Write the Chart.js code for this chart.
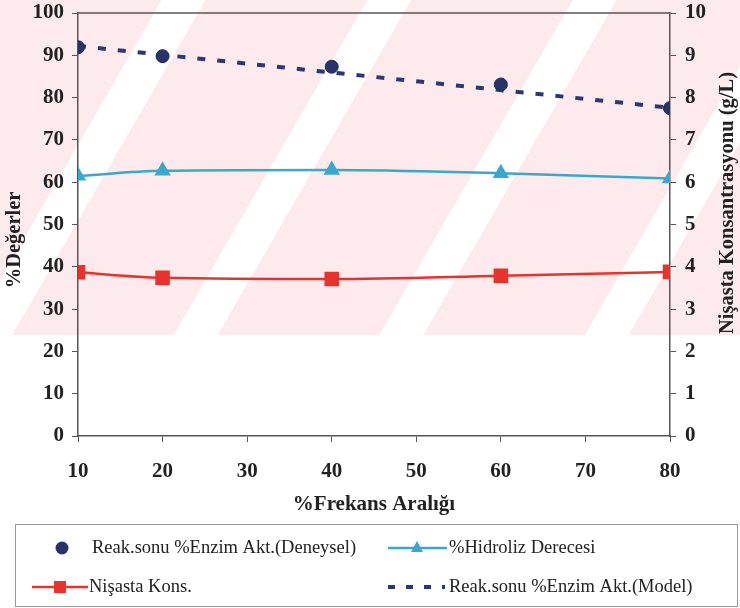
<!DOCTYPE html>
<html lang="tr">
<head>
    <meta charset="UTF-8">
    <title>Frekans Aralığı</title>
    <script src="https://cdn.jsdelivr.net/npm/chart.js"></script>
    <style>
        body {
            margin: 0;
            background: #fff;
        }
        .wrap {
            position: relative;
            width: 740px;
            height: 608px;
        }
        /* faint pink watermark stripes behind the chart */
        .watermark {
            position: absolute;
            left: 0;
            top: 0;
            width: 740px;
            height: 335px;
            background: repeating-linear-gradient(120deg, #fdeaec 0px, #fdeaec 140px, #ffffff 140px, #ffffff 178px);
        }
        canvas {
            position: absolute;
            left: 0;
            top: 0;
        }
    </style>
</head>
<body>
<div class="wrap">
    <div class="watermark"></div>
    <canvas id="chart" width="740" height="608"></canvas>
</div>

<script>
    const frekans = [10, 20, 40, 60, 80];
    const enzimDeneysel = [91.9, 89.8, 87.3, 83.1, 77.5];
    const hidrolizDerecesi = [61.5, 62.7, 62.9, 62.1, 60.9];
    const nisastaKons = [3.87, 3.74, 3.71, 3.79, 3.88];
    const modelFrekans = [10, 80];
    const enzimModel = [92.2, 77.6];

    const xTicks = [10, 20, 30, 40, 50, 60, 70, 80];
    const leftTicks = [0, 10, 20, 30, 40, 50, 60, 70, 80, 90, 100];
    const rightTicks = [0, 1, 2, 3, 4, 5, 6, 7, 8, 9, 10];

    const SERIF = "'Liberation Serif', 'Times New Roman', serif";
    const AXIS_COLOR = '#555';

    function pts(xs, ys) {
        return xs.map((x, i) => ({x: x, y: ys[i]}));
    }

    // axis titles + frame + boxed legend, drawn by hand
    const extras = {
        id: 'extras',
        afterDraw(chart) {
            const ctx = chart.ctx;
            const a = chart.chartArea;
            const ds = chart.data.datasets;
            ctx.save();

            ctx.strokeStyle = AXIS_COLOR;
            ctx.lineWidth = 1.5;
            ctx.beginPath();
            ctx.moveTo(a.left, a.top);
            ctx.lineTo(a.right, a.top);
            ctx.stroke();

            ctx.fillStyle = '#222';
            ctx.font = 'bold 21px ' + SERIF;
            ctx.textAlign = 'center';
            ctx.textBaseline = 'middle';
            ctx.fillText('%Frekans Aralığı', (a.left + a.right) / 2, 505);

            ctx.font = 'bold 20.5px ' + SERIF;
            ctx.save();
            ctx.translate(15, 240);
            ctx.rotate(-Math.PI / 2);
            ctx.fillText('%Değerler', 0, 0);
            ctx.restore();

            ctx.save();
            ctx.translate(728, 203);
            ctx.rotate(-Math.PI / 2);
            ctx.fillText('Nişasta Konsantrasyonu (g/L)', 0, 0);
            ctx.restore();

            // legend box
            ctx.strokeStyle = '#999';
            ctx.lineWidth = 1;
            ctx.strokeRect(15.5, 524.5, 722, 82);

            const row1 = 548, row2 = 587;
            ctx.font = '18.5px ' + SERIF;
            ctx.textAlign = 'left';
            ctx.fillStyle = '#222';

            // Deneysel
            ctx.fillStyle = ds[0].backgroundColor;
            ctx.beginPath();
            ctx.arc(62, row1, 6.5, 0, Math.PI * 2);
            ctx.fill();
            ctx.fillStyle = '#222';
            ctx.fillText(ds[0].label, 92, row1);

            // Nişasta
            ctx.strokeStyle = ds[2].borderColor;
            ctx.lineWidth = 2.5;
            ctx.beginPath();
            ctx.moveTo(32, row2);
            ctx.lineTo(88, row2);
            ctx.stroke();
            ctx.fillStyle = ds[2].backgroundColor;
            ctx.fillRect(54, row2 - 6, 12, 12);
            ctx.fillStyle = '#222';
            ctx.fillText(ds[2].label, 89, row2);

            // Hidroliz
            ctx.strokeStyle = ds[1].borderColor;
            ctx.beginPath();
            ctx.moveTo(388, row1);
            ctx.lineTo(447, row1);
            ctx.stroke();
            ctx.fillStyle = ds[1].backgroundColor;
            ctx.beginPath();
            ctx.moveTo(417, row1 - 7);
            ctx.lineTo(423, row1 + 4);
            ctx.lineTo(411, row1 + 4);
            ctx.closePath();
            ctx.fill();
            ctx.fillStyle = '#222';
            ctx.fillText(ds[1].label, 449, row1);

            // Model
            ctx.strokeStyle = ds[3].borderColor;
            ctx.lineWidth = 4;
            ctx.setLineDash([7, 11]);
            ctx.beginPath();
            ctx.moveTo(388, row2);
            ctx.lineTo(445, row2);
            ctx.stroke();
            ctx.setLineDash([]);
            ctx.fillStyle = '#222';
            ctx.fillText(ds[3].label, 449, row2);

            ctx.restore();
        }
    };

    const tickFont = {family: SERIF, size: 21, weight: 'bold'};

    function fitY(width) {
        return s => {
            s.width = width;
            s.paddingTop = 0;
            s.paddingBottom = 0;
        };
    }

    new Chart(document.getElementById('chart'), {
        type: 'line',
        data: {
            datasets: [
                {
                    label: 'Reak.sonu %Enzim Akt.(Deneysel)',
                    data: pts(frekans, enzimDeneysel),
                    showLine: false,
                    pointStyle: 'circle',
                    pointRadius: 6.5,
                    backgroundColor: '#26346a',
                    borderColor: '#1d2a58',
                    borderWidth: 1,
                    yAxisID: 'y',
                    order: 0
                },
                {
                    label: '%Hidroliz Derecesi',
                    data: pts(frekans, hidrolizDerecesi),
                    borderColor: '#3aa8cc',
                    backgroundColor: '#3aa8cc',
                    borderWidth: 2.5,
                    pointStyle: 'triangle',
                    pointRadius: 7,
                    cubicInterpolationMode: 'monotone',
                    yAxisID: 'y',
                    order: 1
                },
                {
                    label: 'Nişasta Kons.',
                    data: pts(frekans, nisastaKons),
                    borderColor: '#e8322c',
                    backgroundColor: '#e8322c',
                    borderWidth: 2.5,
                    pointStyle: 'rect',
                    pointRadius: 8.5,
                    cubicInterpolationMode: 'monotone',
                    yAxisID: 'y2',
                    order: 1
                },
                {
                    label: 'Reak.sonu %Enzim Akt.(Model)',
                    data: pts(modelFrekans, enzimModel),
                    borderColor: '#2c3773',
                    backgroundColor: '#2c3773',
                    borderWidth: 4,
                    borderDash: [8, 12],
                    pointRadius: 0,
                    yAxisID: 'y',
                    order: 2
                }
            ]
        },
        options: {
            responsive: false,
            animation: false,
            layout: {padding: {top: 13, left: 0, right: 0, bottom: 0}},
            plugins: {
                legend: {display: false},
                tooltip: {enabled: false}
            },
            scales: {
                x: {
                    type: 'linear',
                    min: 10,
                    max: 80,
                    afterBuildTicks: s => { s.ticks = xTicks.map(v => ({value: v})); },
                    afterFit: s => { s.height = 608 - 436; },
                    ticks: {font: tickFont, color: '#222', padding: 17},
                    grid: {drawOnChartArea: false, color: AXIS_COLOR, tickLength: 6},
                    border: {color: AXIS_COLOR, width: 1.5}
                },
                y: {
                    position: 'left',
                    min: 0,
                    max: 100,
                    afterBuildTicks: s => { s.ticks = leftTicks.map(v => ({value: v})); },
                    afterFit: fitY(78),
                    ticks: {font: tickFont, color: '#222', padding: 8},
                    grid: {drawOnChartArea: false, color: AXIS_COLOR, tickLength: 6},
                    border: {color: AXIS_COLOR, width: 1.5}
                },
                y2: {
                    position: 'right',
                    min: 0,
                    max: 10,
                    afterBuildTicks: s => { s.ticks = rightTicks.map(v => ({value: v})); },
                    afterFit: fitY(740 - 670),
                    ticks: {font: tickFont, color: '#222', padding: 9},
                    grid: {drawOnChartArea: false, color: AXIS_COLOR, tickLength: 6},
                    border: {color: AXIS_COLOR, width: 1.5}
                }
            }
        },
        plugins: [extras]
    });
</script>
</body>
</html>
